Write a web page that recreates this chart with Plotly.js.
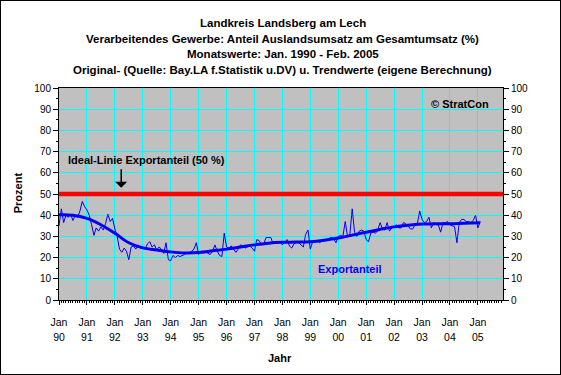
<!DOCTYPE html>
<html>
<head>
<meta charset="utf-8">
<script src="https://cdn.plot.ly/plotly-3.0.1.min.js"></script>
<style>
html,body{margin:0;padding:0;background:#fff;}
#wrap{position:relative;width:561px;height:375px;}
#chart{width:561px;height:375px;}
#frame{position:absolute;left:0;top:0;width:559px;height:373px;border:1px solid #000;pointer-events:none;}
</style>
</head>
<body>
<div id="wrap"><div id="chart"></div><div id="frame"></div></div>
<script>
// Monthly values Jan 1990 - Feb 2005 (Exportanteil, %)
const exportanteil = [
 35,43,36.5,40,39,40.5,37.5,40,39,42,46.5,44,
 42.5,40,35.5,30.5,34,32.5,34.5,33,36,40.5,37,38.5,
 33.5,30,24,22.5,24.5,23,19,25,25.5,24,26,24.5,
 25,24,26.5,27.5,25,26,23.5,25,24,22,27,19,
 18.5,21,20,21,20.5,21,21.5,22.5,22,23,24,27,
 21.5,23,23,23,22,21.5,23,26,23,21,20.5,31.5,
 25,24.5,25.5,24,22.5,24,26,25.5,24.5,25,25.5,24.5,
 23,28.5,28,26,26.5,29.5,29.5,29.5,26.5,27.5,27,27.5,
 26,27.5,28.5,25.5,24.5,26.5,27,27,26,25,31,33,
 24,27.5,27.5,28,27,28,28.5,28,29,29.5,29,27,
 30,30.5,30,37,30,31,43,32,30,32.5,33,32.5,
 28.5,27.5,31.5,32,31.5,33,36.5,33.5,33,36.5,32.5,34,
 34.5,35.5,34,34,36.5,36,35,33.5,33.5,35.5,36,42,
 38,36.5,37,39,34,36.5,35.5,35.5,32,36.5,36.5,37,
 35.5,35,34.5,27,36.5,38,38,37,37,36.5,37.5,40,
 34,37
];
// Trend values (eigene Berechnung), read at half-year steps (month index)
const trendMonths = [0,6,12,18,24,30,36,42,48,54,60,66,72,78,84,90,96,102,108,114,120,126,132,138,144,150,156,162,168,174,181];
const trendValues = [40.2,40,38.5,35.5,31.5,27,24.6,23.6,22.7,22.2,22.4,23.2,24,25,26,26.8,27.2,27.3,27.5,28.2,29.2,30.6,32,33.3,34.5,35.3,35.8,36,36,36.2,36.4];
const idealLine = 50;
// Category axis: ticks at each January (month index)
const tickMonths = [0,12,24,36,48,60,72,84,96,108,120,132,144,156,168,180];
const tickMonthText = tickMonths.map(() => 'Jan');
const tickYears = ['90','91','92','93','94','95','96','97','98','99','00','01','02','03','04','05'];
const xMax = 190.8;

const monthIndex = exportanteil.map((_, i) => i);
const FONT = 'Liberation Sans, Arial, sans-serif';

const traces = [
  {x: monthIndex, y: exportanteil, type: 'scatter', mode: 'lines', name: 'Exportanteil',
   line: {color: '#0000FF', width: 1}, hoverinfo: 'skip'},
  {x: trendMonths, y: trendValues, type: 'scatter', mode: 'lines', name: 'Trend',
   xaxis: 'x2', yaxis: 'y2', line: {color: '#0000FF', width: 3, shape: 'spline', smoothing: 1}, hoverinfo: 'skip'}
];

const ax = {color: '#000', size: 10, family: FONT};
const layout = {
  width: 561, height: 375,
  margin: {l: 59, r: 58, t: 88, b: 75},
  paper_bgcolor: '#FFFFFF', plot_bgcolor: '#C0C0C0',
  showlegend: false,
  font: {family: FONT, color: '#000'},
  xaxis: {range: [0, xMax], tickmode: 'array', tickvals: tickMonths, ticktext: tickMonthText,
          showgrid: true, gridcolor: '#00FFFF', gridwidth: 1, zeroline: false,
          showline: true, linecolor: '#000', linewidth: 1, mirror: true,
          ticks: 'outside', ticklen: 4, tickcolor: '#000', ticklabelstandoff: 8,
          tickfont: {color: '#000', size: 10.5, family: FONT},
          minor: {tickmode: 'linear', tick0: 0, dtick: 1, ticks: 'outside', ticklen: 2, tickcolor: '#000', showgrid: false}},
  xaxis2: {range: [0, xMax], overlaying: 'x', anchor: 'y', side: 'bottom',
          tickmode: 'array', tickvals: tickMonths, ticktext: tickYears,
          showgrid: false, zeroline: false, showline: false, ticks: '',
          ticklabelstandoff: 29, tickfont: {color: '#000', size: 10.5, family: FONT}},
  yaxis: {range: [0, 100], dtick: 10, tick0: 0, showgrid: true, gridcolor: '#00FFFF', gridwidth: 1,
          zeroline: false, showline: true, linecolor: '#000', linewidth: 1,
          ticks: 'outside', ticklen: 5, tickcolor: '#000', tickfont: ax,
          minor: {tickmode: 'linear', tick0: 5, dtick: 10, ticks: 'outside', ticklen: 2, tickcolor: '#000', showgrid: false}},
  yaxis2: {range: [0, 100], dtick: 10, tick0: 0, overlaying: 'y', side: 'right', anchor: 'x',
          showgrid: false, zeroline: false, showline: true, linecolor: '#000', linewidth: 1,
          ticks: 'outside', ticklen: 5, tickcolor: '#000', tickfont: ax,
          minor: {tickmode: 'linear', tick0: 5, dtick: 10, ticks: 'outside', ticklen: 2, tickcolor: '#000', showgrid: false}},
  shapes: [
    {type: 'line', xref: 'paper', yref: 'y', x0: 0, x1: 1, y0: idealLine, y1: idealLine,
     line: {color: '#FF0000', width: 4.5}, layer: 'above'}
  ],
  annotations: [
    {text: 'Landkreis Landsberg am Lech', xref: 'paper', yref: 'paper', x: 0.5044, y: 1.308, showarrow: false, font: {size: 11.5, family: FONT, weight: 'bold'}, xanchor: 'center', yanchor: 'middle'},
    {text: 'Verarbeitendes Gewerbe: Anteil Auslandsumsatz am Gesamtumsatz (%)', xref: 'paper', yref: 'paper', x: 0.5044, y: 1.232, showarrow: false, font: {size: 11.5, family: FONT, weight: 'bold'}, xanchor: 'center', yanchor: 'middle'},
    {text: 'Monatswerte: Jan. 1990 - Feb. 2005', xref: 'paper', yref: 'paper', x: 0.5044, y: 1.160, showarrow: false, font: {size: 11.5, family: FONT, weight: 'bold'}, xanchor: 'center', yanchor: 'middle'},
    {text: 'Original- (Quelle: Bay.LA f.Statistik u.DV) u. Trendwerte (eigene Berechnung)', xref: 'paper', yref: 'paper', x: 0.5044, y: 1.086, showarrow: false, font: {size: 11.5, family: FONT, weight: 'bold'}, xanchor: 'center', yanchor: 'middle'},
    {text: 'Prozent', xref: 'paper', yref: 'paper', x: -0.0934, y: 0.506, textangle: -90, showarrow: false, font: {size: 11, family: FONT, weight: 'bold'}, xanchor: 'center', yanchor: 'middle'},
    {text: 'Jahr', xref: 'paper', yref: 'paper', x: 0.4976, y: -0.272, showarrow: false, font: {size: 11, family: FONT, weight: 'bold'}, xanchor: 'center', yanchor: 'middle'},
    {text: 'Ideal-Linie Exportanteil (50 %)', xref: 'paper', yref: 'paper', x: 0.016, y: 0.662, showarrow: false, font: {size: 11, family: FONT, weight: 'bold'}, xanchor: 'left', yanchor: 'middle'},
    {text: '', xref: 'paper', yref: 'paper', x: 0.1401, y: 0.5297, showarrow: true, arrowhead: 1, arrowwidth: 1.5, arrowsize: 1.33, arrowcolor: '#000', ax: 0, ay: -20, standoff: 0},
    {text: '© StratCon', xref: 'paper', yref: 'paper', x: 0.834, y: 0.924, showarrow: false, font: {size: 11, family: FONT, weight: 'bold'}, xanchor: 'left', yanchor: 'middle'},
    {text: 'Exportanteil', xref: 'paper', yref: 'paper', x: 0.579, y: 0.148, showarrow: false, font: {size: 11, family: FONT, weight: 'bold', color: '#0000FF'}, xanchor: 'left', yanchor: 'middle'}
  ]
};

Plotly.newPlot('chart', traces, layout, {staticPlot: true, displayModeBar: false});
</script>
</body>
</html>
